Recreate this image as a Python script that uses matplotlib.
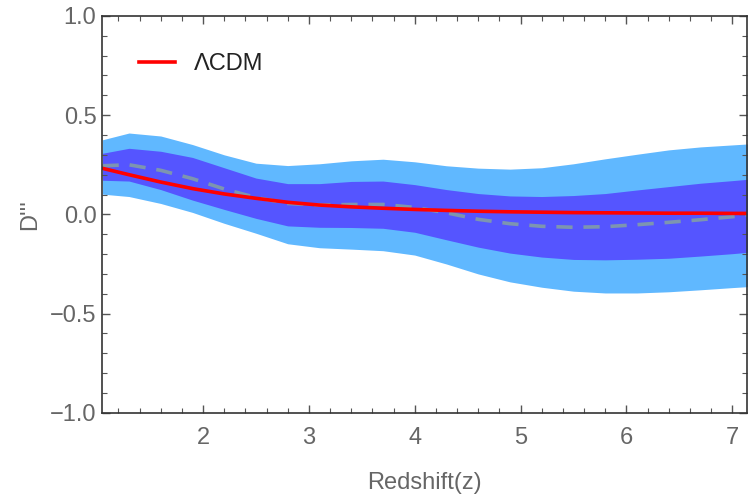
import matplotlib
matplotlib.use("Agg")
from matplotlib import pyplot as plt
from matplotlib.ticker import MultipleLocator
import numpy as np

# Redshift grid and the values
z = [1.05, 1.3, 1.6, 1.9, 2.2, 2.5, 2.8, 3.1, 3.4, 3.7, 4.0, 4.3, 4.6,
     4.9, 5.2, 5.5, 5.8, 6.1, 6.4, 6.7, 7.0, 7.15]

upper2 = [0.376, 0.410, 0.395, 0.352, 0.300, 0.258, 0.246, 0.255, 0.270, 0.278,
          0.265, 0.245, 0.233, 0.228, 0.235, 0.255, 0.280, 0.303, 0.325, 0.340,
          0.350, 0.355]
upper1 = [0.308, 0.333, 0.318, 0.287, 0.235, 0.183, 0.155, 0.155, 0.166, 0.168,
          0.150, 0.125, 0.105, 0.093, 0.090, 0.095, 0.105, 0.123, 0.140, 0.157,
          0.170, 0.177]
mean = [0.245, 0.250, 0.222, 0.180, 0.128, 0.085, 0.055, 0.047, 0.050, 0.050,
        0.035, 0.008, -0.025, -0.047, -0.060, -0.065, -0.062, -0.052, -0.040,
        -0.027, -0.012, -0.003]
lower1 = [0.172, 0.168, 0.125, 0.072, 0.025, -0.020, -0.058, -0.065, -0.066, -0.070,
          -0.090, -0.128, -0.165, -0.195, -0.215, -0.227, -0.229, -0.226, -0.221,
          -0.210, -0.198, -0.191]
lower2 = [0.102, 0.090, 0.055, 0.010, -0.045, -0.095, -0.148, -0.168, -0.175, -0.183,
          -0.205, -0.250, -0.300, -0.340, -0.367, -0.387, -0.396, -0.396, -0.390,
          -0.380, -0.369, -0.364]
lcdm = [0.232, 0.200, 0.163, 0.130, 0.103, 0.081, 0.061, 0.047, 0.038, 0.031,
        0.025, 0.020, 0.016, 0.013, 0.011, 0.009, 0.008, 0.007, 0.006, 0.006,
        0.005, 0.005]

plt.rcParams['font.family'] = ['Liberation Sans', 'DejaVu Sans']

fig = plt.figure(figsize=(7.5, 4.98), dpi=100)
ax = fig.add_axes([0.136, 0.171, 0.86, 0.797])

# 2 sigma and 1 sigma bands
ax.fill_between(z, lower2, upper2, color="#60b8ff", lw=0)
ax.fill_between(z, lower1, upper1, color="#5555ff", lw=0)
ax.plot(z, mean, color="#7d95b0", lw=2.6, dashes=(4.5, 3))
ax.plot(z, lcdm, color="#ff0000", lw=2.6, label="\u039bCDM")

ax.set_xlim(1.045, 7.14)
ax.set_ylim(-1, 1)
ax.xaxis.set_major_locator(MultipleLocator(1))
ax.xaxis.set_minor_locator(MultipleLocator(0.2))
ax.yaxis.set_major_locator(MultipleLocator(0.5))
ax.yaxis.set_minor_locator(MultipleLocator(0.1))

ax.tick_params(which="both", direction="in", top=True, right=True,
               colors="#555555", labelcolor="#666666", labelsize=17)
ax.tick_params(which="major", length=6, width=1)
ax.tick_params(which="minor", length=3.5, width=0.8)
ax.tick_params(axis="x", pad=10)
ax.tick_params(axis="y", pad=4)
for s in ax.spines.values():
    s.set_color("#333333")
    s.set_linewidth(1.2)

ax.set_xlabel("Redshift(z)", fontsize=17, color="#666666", labelpad=17)
ax.set_ylabel("D'''", fontsize=17, color="#666666", labelpad=6)

ax.legend(loc="upper left", frameon=False, fontsize=17, handlelength=1.5,
          handletextpad=0.8, bbox_to_anchor=(0.025, 0.96), labelcolor="#222222")

fig.savefig("out.png", dpi=100)
